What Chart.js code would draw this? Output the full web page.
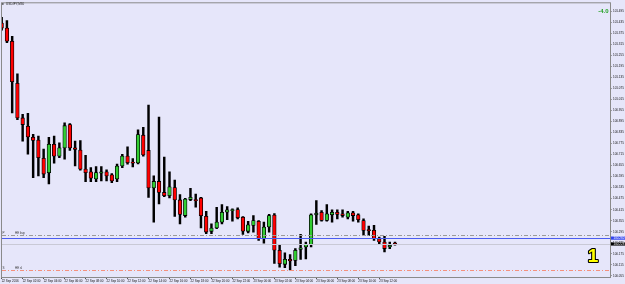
<!DOCTYPE html>
<html>
<head>
<meta charset="utf-8">
<script src="https://cdn.jsdelivr.net/npm/chart.js@4.4.1/dist/chart.umd.min.js"></script>
<style>
  html, body { margin: 0; padding: 0; background: #e6e6fa; overflow: hidden; }
  #wrap { width: 625px; height: 284px; }
</style>
</head>
<body>
<div id="wrap"><canvas id="chart" width="625" height="284"></canvas></div>
<script>
// USDJPY, M30 - one entry per bar
const opens = [
  101.432, 101.405, 101.333, 101.104, 100.915, 100.870, 100.810, 100.794, 100.695, 100.617,
  100.771, 100.707, 100.752, 100.879, 100.752, 100.740, 100.636, 100.621, 100.582, 100.614,
  100.621, 100.605, 100.582, 100.653, 100.707, 100.675, 100.670, 100.821, 100.738, 100.533,
  100.569, 100.509, 100.491, 100.536, 100.468, 100.383, 100.470, 100.467, 100.479, 100.379,
  100.297, 100.315, 100.347, 100.401, 100.410, 100.416, 100.374, 100.297, 100.329, 100.352,
  100.257, 100.321, 100.386, 100.194, 100.117, 100.144, 100.138, 100.199, 100.212, 100.224,
  100.387, 100.401, 100.356, 100.387, 100.401, 100.392, 100.374, 100.398, 100.387, 100.356,
  100.304, 100.302, 100.257, 100.239, 100.212, 100.232
];
const highs = [
  101.464, 101.446, 101.360, 101.155, 100.935, 100.940, 100.826, 100.816, 100.745, 100.810,
  100.816, 100.779, 100.888, 100.884, 100.789, 100.792, 100.711, 100.644, 100.650, 100.650,
  100.632, 100.612, 100.663, 100.717, 100.758, 100.694, 100.850, 100.864, 100.985, 100.599,
  100.920, 100.702, 100.621, 100.576, 100.497, 100.477, 100.531, 100.500, 100.482, 100.406,
  100.338, 100.428, 100.443, 100.432, 100.419, 100.425, 100.378, 100.352, 100.383, 100.356,
  100.347, 100.390, 100.394, 100.224, 100.180, 100.170, 100.203, 100.280, 100.239, 100.392,
  100.464, 100.410, 100.443, 100.414, 100.414, 100.414, 100.406, 100.406, 100.392, 100.365,
  100.325, 100.329, 100.266, 100.270, 100.239, 100.239
];
const lows = [
  101.394, 101.325, 100.942, 100.906, 100.789, 100.718, 100.590, 100.599, 100.590, 100.556,
  100.668, 100.698, 100.690, 100.738, 100.653, 100.630, 100.567, 100.567, 100.567, 100.572,
  100.572, 100.562, 100.567, 100.644, 100.663, 100.648, 100.664, 100.707, 100.482, 100.347,
  100.446, 100.486, 100.479, 100.378, 100.338, 100.374, 100.464, 100.428, 100.315, 100.284,
  100.284, 100.311, 100.338, 100.360, 100.352, 100.365, 100.280, 100.288, 100.293, 100.248,
  100.233, 100.293, 100.122, 100.102, 100.099, 100.086, 100.110, 100.144, 100.146, 100.212,
  100.334, 100.352, 100.352, 100.347, 100.365, 100.374, 100.365, 100.352, 100.347, 100.275,
  100.275, 100.248, 100.230, 100.185, 100.203, 100.221
];
const closes = [
  101.405, 101.333, 101.113, 100.915, 100.879, 100.812, 100.792, 100.698, 100.609, 100.771,
  100.707, 100.752, 100.873, 100.752, 100.744, 100.636, 100.617, 100.587, 100.617, 100.621,
  100.599, 100.572, 100.653, 100.707, 100.671, 100.668, 100.825, 100.713, 100.533, 100.569,
  100.509, 100.491, 100.540, 100.468, 100.389, 100.473, 100.482, 100.464, 100.382, 100.293,
  100.315, 100.347, 100.401, 100.414, 100.413, 100.371, 100.298, 100.333, 100.356, 100.257,
  100.320, 100.383, 100.194, 100.121, 100.144, 100.136, 100.194, 100.207, 100.226, 100.387,
  100.396, 100.356, 100.392, 100.401, 100.389, 100.383, 100.398, 100.383, 100.360, 100.302,
  100.301, 100.257, 100.239, 100.203, 100.221, 100.228
];

// bottom axis: one label every 4 bars
const timeLabels = [
  '22 Sep 2016', '22 Sep 02:00', '22 Sep 04:00', '22 Sep 06:00', '22 Sep 08:00',
  '22 Sep 10:00', '22 Sep 12:00', '22 Sep 14:00', '22 Sep 16:00', '22 Sep 18:00',
  '22 Sep 20:00', '22 Sep 22:00', '23 Sep 00:00', '23 Sep 02:00', '23 Sep 04:00',
  '23 Sep 06:00', '23 Sep 08:00', '23 Sep 10:00', '23 Sep 12:00'
];
const priceTicks = [
  100.055, 100.115, 100.175, 100.235, 100.295, 100.355, 100.415, 100.475, 100.535,
  100.595, 100.655, 100.715, 100.775, 100.835, 100.895, 100.955, 101.015, 101.075,
  101.135, 101.195, 101.255, 101.315, 101.375, 101.435, 101.495
];

// chart objects
const pivotLevel = 100.275;
const blueLevel = 100.260;
const stopLevel = 100.084;
const profitText = '-4.0';

const BG = '#e6e6fa';
const FRAME = '#8a8a8a';
const tinyFont = '3px "Liberation Sans"';

const bodyColors = opens.map((o, i) => closes[i] < o ? '#ff0000' : '#32cd32');

const overlay = {
  id: 'overlay',
  beforeDraw(chart) {
    const ctx = chart.ctx;
    ctx.save();
    ctx.fillStyle = BG;
    ctx.fillRect(0, 0, chart.width, chart.height);
    ctx.restore();
  },
  afterDatasetsDraw(chart) {
    const { ctx, chartArea: a } = chart;
    const y = chart.scales.y;
    const bid = closes[closes.length - 1];
    ctx.save();
    ctx.beginPath();
    ctx.rect(a.left, a.top, a.right - a.left, a.bottom - a.top);
    ctx.clip();

    const hline = (v, color, dash, w) => {
      const py = Math.round(y.getPixelForValue(v)) + 0.5;
      ctx.strokeStyle = color;
      ctx.lineWidth = w;
      ctx.setLineDash(dash);
      ctx.beginPath();
      ctx.moveTo(a.left, py);
      ctx.lineTo(a.right, py);
      ctx.stroke();
      return py;
    };
    hline(bid, '#c9c9d6', [], 1);
    const pY = hline(pivotLevel, '#9a9a9a', [4, 2, 1, 2], 1);
    hline(blueLevel, '#4a5cf0', [], 1.2);
    const sY = hline(stopLevel, '#f4907c', [4, 2, 1, 2], 1);

    ctx.setLineDash([]);
    ctx.fillStyle = '#333';
    ctx.font = tinyFont;
    ctx.textBaseline = 'bottom';
    ctx.textAlign = 'left';
    ctx.fillText('P', 2.5, pY - 0.5);
    ctx.fillText('HE buy', 15, pY - 0.5);
    ctx.fillText('S', 2.5, sY - 0.5);
    ctx.fillText('HE sl', 15, sY - 0.5);
    ctx.restore();
  },
  afterDraw(chart) {
    const { ctx, chartArea: a } = chart;
    const y = chart.scales.y;
    const bid = closes[closes.length - 1];
    ctx.save();

    // frame
    ctx.strokeStyle = FRAME;
    ctx.lineWidth = 1;
    ctx.strokeRect(a.left - 0.5, a.top - 0.5, a.right - a.left + 1, a.bottom - a.top + 1);

    // price boxes on the axis
    const box = (v, fill) => {
      const py = y.getPixelForValue(v);
      ctx.fillStyle = fill;
      ctx.fillRect(a.right + 1, py - 1.6, chart.width - a.right - 1, 3.2);
      ctx.fillStyle = '#fff';
      ctx.font = tinyFont;
      ctx.textAlign = 'left';
      ctx.textBaseline = 'middle';
      ctx.fillText(v.toFixed(3), a.right + 3.5, py);
    };
    box(blueLevel, '#3344ee');
    box(bid, '#000');

    // symbol title
    ctx.fillStyle = '#000';
    ctx.fillRect(2, 3.5, 1.6, 1);
    ctx.fillStyle = '#222';
    ctx.font = tinyFont;
    ctx.textAlign = 'left';
    ctx.textBaseline = 'middle';
    ctx.fillText('USDJPY,M30', 6, 4.2);

    // floating profit
    ctx.fillStyle = '#22a022';
    ctx.font = 'bold 6px "Liberation Sans"';
    ctx.textAlign = 'right';
    ctx.textBaseline = 'middle';
    ctx.fillText(profitText, 608.5, 11.5);

    // big yellow "1"
    ctx.font = 'bold 19px "Liberation Sans"';
    ctx.textAlign = 'center';
    ctx.textBaseline = 'alphabetic';
    ctx.lineJoin = 'round';
    ctx.lineWidth = 2.2;
    ctx.strokeStyle = '#000';
    ctx.strokeText('1', 593, 262);
    ctx.fillStyle = '#ffff00';
    ctx.fillText('1', 593, 262);
    ctx.restore();
  }
};

new Chart(document.getElementById('chart'), {
  type: 'bar',
  data: {
    datasets: [
      {
        label: 'range',
        data: opens.map((o, i) => ({ x: i, y: [lows[i], highs[i]] })),
        backgroundColor: '#000',
        barThickness: 1.8,
        grouped: false,
        order: 2
      },
      {
        label: 'body',
        data: opens.map((o, i) => ({ x: i, y: [o, closes[i]] })),
        backgroundColor: bodyColors,
        borderColor: '#000',
        borderWidth: 0.8,
        borderSkipped: false,
        barThickness: 3.6,
        minBarLength: 1,
        grouped: false,
        order: 1
      }
    ]
  },
  options: {
    responsive: false,
    animation: false,
    devicePixelRatio: 1,
    layout: { padding: { left: 2, top: 1, right: 0, bottom: 0 } },
    plugins: {
      legend: { display: false },
      tooltip: { enabled: false }
    },
    scales: {
      x: {
        type: 'linear',
        offset: false,
        min: 0.06,
        max: 116,
        afterBuildTicks: s => { s.ticks = timeLabels.map((t, i) => ({ value: i * 4 })); },
        afterFit: s => { s.height = 7; },
        ticks: {
          align: 'start',
          maxRotation: 0,
          autoSkip: false,
          padding: 0.5,
          color: '#111',
          font: { family: 'Liberation Sans', size: 3 },
          callback: v => timeLabels[Math.round(v / 4)]
        },
        grid: { drawOnChartArea: false, tickLength: 2, color: '#555', offset: false },
        border: { display: false }
      },
      y: {
        position: 'right',
        min: 100.048,
        max: 101.540,
        afterBuildTicks: s => { s.ticks = priceTicks.map(v => ({ value: v })); },
        afterFit: s => { s.width = 15; },
        ticks: {
          padding: 1.5,
          color: '#111',
          font: { family: 'Liberation Sans', size: 3 },
          callback: v => v.toFixed(3)
        },
        grid: { drawOnChartArea: false, tickLength: 1.5, color: '#555' },
        border: { display: false }
      }
    }
  },
  plugins: [overlay]
});
</script>
</body>
</html>
